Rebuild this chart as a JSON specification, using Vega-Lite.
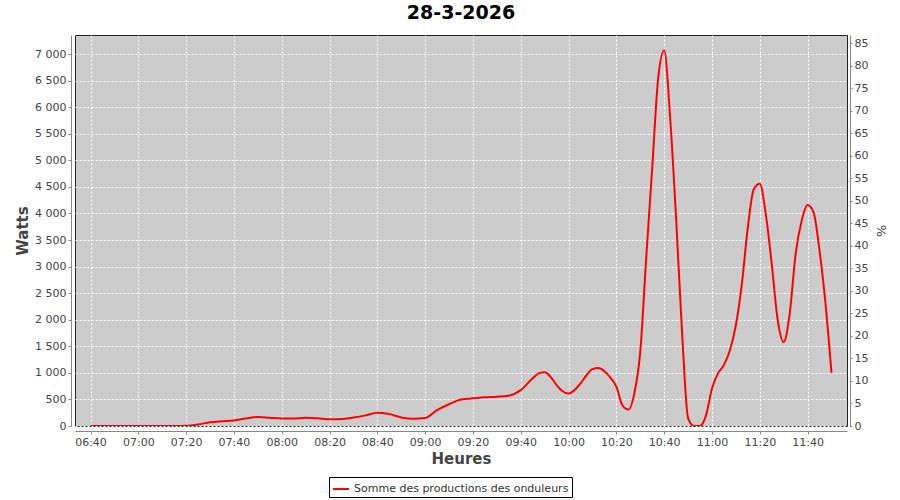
{
  "$schema": "https://vega.github.io/schema/vega-lite/v6.json",
  "width": 772,
  "height": 391,
  "autosize": {"type": "none"},
  "padding": {"left": 75, "top": 35, "right": 53, "bottom": 74},
  "background": "#ffffff",
  "title": {"text": "28-3-2026", "font": "DejaVu Sans", "fontSize": 19, "fontWeight": "bold", "color": "#000000", "anchor": "middle", "offset": 12},
  "config": {
    "view": {"fill": "#cccccc", "stroke": "#222222", "strokeWidth": 1},
    "axis": {
      "labelFont": "DejaVu Sans",
      "labelFontSize": 11,
      "labelColor": "#444444",
      "titleFont": "DejaVu Sans",
      "titleColor": "#444444",
      "domainColor": "#888888",
      "tickColor": "#888888",
      "gridColor": "#ffffff",
      "gridDash": [2, 2],
      "gridOpacity": 1,
      "gridWidth": 1
    }
  },
  "layer": [
    {
      "data": {
        "values": [
          {"time": "2026-03-28T06:40:00", "watts": 0},
          {"time": "2026-03-28T06:45:00", "watts": 0},
          {"time": "2026-03-28T06:50:00", "watts": 0},
          {"time": "2026-03-28T06:55:00", "watts": 0},
          {"time": "2026-03-28T07:00:00", "watts": 0},
          {"time": "2026-03-28T07:05:00", "watts": 0},
          {"time": "2026-03-28T07:10:00", "watts": 0},
          {"time": "2026-03-28T07:15:00", "watts": 0},
          {"time": "2026-03-28T07:20:00", "watts": 5},
          {"time": "2026-03-28T07:25:00", "watts": 30},
          {"time": "2026-03-28T07:30:00", "watts": 70},
          {"time": "2026-03-28T07:35:00", "watts": 90},
          {"time": "2026-03-28T07:40:00", "watts": 105},
          {"time": "2026-03-28T07:45:00", "watts": 140},
          {"time": "2026-03-28T07:50:00", "watts": 170},
          {"time": "2026-03-28T07:55:00", "watts": 155},
          {"time": "2026-03-28T08:00:00", "watts": 140},
          {"time": "2026-03-28T08:05:00", "watts": 140},
          {"time": "2026-03-28T08:10:00", "watts": 155},
          {"time": "2026-03-28T08:15:00", "watts": 145},
          {"time": "2026-03-28T08:20:00", "watts": 125},
          {"time": "2026-03-28T08:25:00", "watts": 130},
          {"time": "2026-03-28T08:30:00", "watts": 160},
          {"time": "2026-03-28T08:35:00", "watts": 200},
          {"time": "2026-03-28T08:40:00", "watts": 250},
          {"time": "2026-03-28T08:45:00", "watts": 225},
          {"time": "2026-03-28T08:50:00", "watts": 160},
          {"time": "2026-03-28T08:55:00", "watts": 135},
          {"time": "2026-03-28T09:00:00", "watts": 150},
          {"time": "2026-03-28T09:05:00", "watts": 300},
          {"time": "2026-03-28T09:10:00", "watts": 410},
          {"time": "2026-03-28T09:15:00", "watts": 500},
          {"time": "2026-03-28T09:20:00", "watts": 520},
          {"time": "2026-03-28T09:25:00", "watts": 540},
          {"time": "2026-03-28T09:30:00", "watts": 550},
          {"time": "2026-03-28T09:35:00", "watts": 570},
          {"time": "2026-03-28T09:40:00", "watts": 675},
          {"time": "2026-03-28T09:45:00", "watts": 900},
          {"time": "2026-03-28T09:47:30", "watts": 990},
          {"time": "2026-03-28T09:50:00", "watts": 1010},
          {"time": "2026-03-28T09:52:30", "watts": 925},
          {"time": "2026-03-28T09:55:00", "watts": 770},
          {"time": "2026-03-28T09:57:30", "watts": 655},
          {"time": "2026-03-28T10:00:00", "watts": 610},
          {"time": "2026-03-28T10:02:30", "watts": 675},
          {"time": "2026-03-28T10:05:00", "watts": 800},
          {"time": "2026-03-28T10:07:30", "watts": 955},
          {"time": "2026-03-28T10:10:00", "watts": 1070},
          {"time": "2026-03-28T10:12:30", "watts": 1090},
          {"time": "2026-03-28T10:15:00", "watts": 1030},
          {"time": "2026-03-28T10:17:30", "watts": 910},
          {"time": "2026-03-28T10:20:00", "watts": 740},
          {"time": "2026-03-28T10:22:30", "watts": 390},
          {"time": "2026-03-28T10:25:00", "watts": 310},
          {"time": "2026-03-28T10:27:30", "watts": 610},
          {"time": "2026-03-28T10:30:00", "watts": 1400},
          {"time": "2026-03-28T10:32:30", "watts": 3175},
          {"time": "2026-03-28T10:35:00", "watts": 4860},
          {"time": "2026-03-28T10:37:30", "watts": 6550},
          {"time": "2026-03-28T10:40:00", "watts": 7070},
          {"time": "2026-03-28T10:42:30", "watts": 5800},
          {"time": "2026-03-28T10:45:00", "watts": 3900},
          {"time": "2026-03-28T10:47:30", "watts": 1740},
          {"time": "2026-03-28T10:50:00", "watts": 150},
          {"time": "2026-03-28T10:52:30", "watts": 0},
          {"time": "2026-03-28T10:55:00", "watts": 0},
          {"time": "2026-03-28T10:57:30", "watts": 200},
          {"time": "2026-03-28T11:00:00", "watts": 705},
          {"time": "2026-03-28T11:02:30", "watts": 990},
          {"time": "2026-03-28T11:05:00", "watts": 1150},
          {"time": "2026-03-28T11:07:30", "watts": 1425},
          {"time": "2026-03-28T11:10:00", "watts": 1900},
          {"time": "2026-03-28T11:12:30", "watts": 2675},
          {"time": "2026-03-28T11:15:00", "watts": 3740},
          {"time": "2026-03-28T11:17:30", "watts": 4460},
          {"time": "2026-03-28T11:20:00", "watts": 4560},
          {"time": "2026-03-28T11:22:30", "watts": 3990},
          {"time": "2026-03-28T11:25:00", "watts": 3050},
          {"time": "2026-03-28T11:27:30", "watts": 1990},
          {"time": "2026-03-28T11:30:00", "watts": 1580},
          {"time": "2026-03-28T11:32:30", "watts": 2110},
          {"time": "2026-03-28T11:35:00", "watts": 3240},
          {"time": "2026-03-28T11:37:30", "watts": 3860},
          {"time": "2026-03-28T11:40:00", "watts": 4160},
          {"time": "2026-03-28T11:42:30", "watts": 4020},
          {"time": "2026-03-28T11:45:00", "watts": 3300},
          {"time": "2026-03-28T11:47:30", "watts": 2300},
          {"time": "2026-03-28T11:50:00", "watts": 1000}
        ]
      },
      "mark": {"type": "line", "interpolate": "monotone", "strokeWidth": 2, "clip": true},
      "encoding": {
        "x": {
          "field": "time",
          "type": "temporal",
          "scale": {"nice": false, "padding": 15.5},
          "axis": {
            "title": "Heures",
            "titleFontSize": 15,
            "titleFontWeight": "bold",
            "titlePadding": 4,
            "format": "%H:%M",
            "values": [
              {"year": 2026, "month": 3, "date": 28, "hours": 6, "minutes": 40},
              {"year": 2026, "month": 3, "date": 28, "hours": 7, "minutes": 0},
              {"year": 2026, "month": 3, "date": 28, "hours": 7, "minutes": 20},
              {"year": 2026, "month": 3, "date": 28, "hours": 7, "minutes": 40},
              {"year": 2026, "month": 3, "date": 28, "hours": 8, "minutes": 0},
              {"year": 2026, "month": 3, "date": 28, "hours": 8, "minutes": 20},
              {"year": 2026, "month": 3, "date": 28, "hours": 8, "minutes": 40},
              {"year": 2026, "month": 3, "date": 28, "hours": 9, "minutes": 0},
              {"year": 2026, "month": 3, "date": 28, "hours": 9, "minutes": 20},
              {"year": 2026, "month": 3, "date": 28, "hours": 9, "minutes": 40},
              {"year": 2026, "month": 3, "date": 28, "hours": 10, "minutes": 0},
              {"year": 2026, "month": 3, "date": 28, "hours": 10, "minutes": 20},
              {"year": 2026, "month": 3, "date": 28, "hours": 10, "minutes": 40},
              {"year": 2026, "month": 3, "date": 28, "hours": 11, "minutes": 0},
              {"year": 2026, "month": 3, "date": 28, "hours": 11, "minutes": 20},
              {"year": 2026, "month": 3, "date": 28, "hours": 11, "minutes": 40}
            ],
            "offset": 5,
            "tickSize": 3,
            "labelPadding": 2,
            "grid": true
          }
        },
        "y": {
          "field": "watts",
          "type": "quantitative",
          "scale": {"domain": [0, 7358], "nice": false},
          "axis": {
            "title": "Watts",
            "titleFontSize": 15,
            "titleFontWeight": "bold",
            "titlePadding": 4,
            "values": [0, 500, 1000, 1500, 2000, 2500, 3000, 3500, 4000, 4500, 5000, 5500, 6000, 6500, 7000],
            "labelExpr": "replace(format(datum.value, ','), ',', ' ')",
            "offset": 4,
            "tickSize": 3,
            "labelPadding": 2,
            "grid": true
          }
        },
        "color": {
          "datum": "Somme des productions des onduleurs",
          "type": "nominal",
          "scale": {"range": ["#ff0000"]},
          "legend": {
            "title": null,
            "orient": "none",
            "legendX": 254,
            "legendY": 442,
            "direction": "horizontal",
            "strokeColor": "#000000",
            "fillColor": "#ffffff",
            "padding": 3,
            "cornerRadius": 0,
            "symbolType": "stroke",
            "symbolStrokeWidth": 2,
            "symbolSize": 256,
            "labelFont": "DejaVu Sans",
            "labelFontSize": 11,
            "labelColor": "#333333",
            "labelLimit": 0
          }
        }
      }
    },
    {
      "data": {"values": [{"pct": 0}, {"pct": 85}]},
      "mark": {"type": "rule", "opacity": 0},
      "encoding": {
        "y": {
          "field": "pct",
          "type": "quantitative",
          "scale": {"domain": [0, 86.8], "nice": false},
          "axis": {
            "orient": "right",
            "title": "%",
            "titleFontSize": 13,
            "titleFontWeight": "normal",
            "titlePadding": 6,
            "values": [0, 5, 10, 15, 20, 25, 30, 35, 40, 45, 50, 55, 60, 65, 70, 75, 80, 85],
            "offset": 3,
            "tickSize": 2,
            "labelPadding": 2,
            "grid": false
          }
        }
      }
    }
  ],
  "resolve": {"scale": {"y": "independent"}}
}
